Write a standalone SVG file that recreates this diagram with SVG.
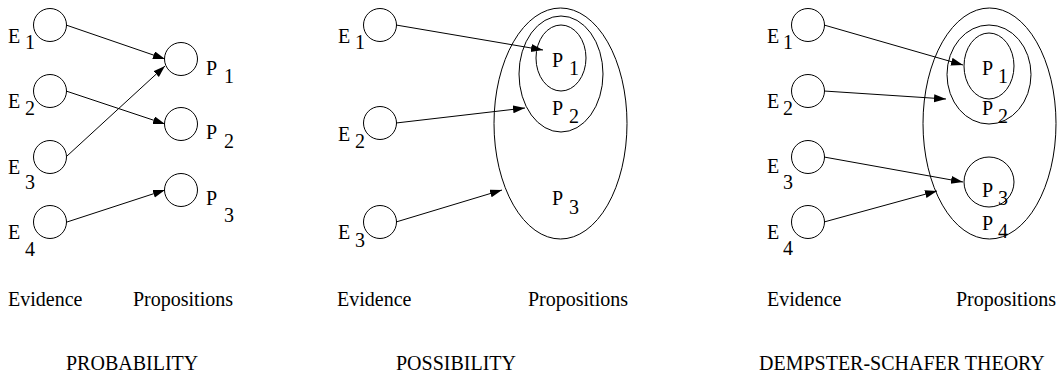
<svg xmlns="http://www.w3.org/2000/svg" width="1057" height="372" viewBox="0 0 1057 372" font-family="'Liberation Serif', 'DejaVu Serif', serif" font-size="20">
  <style>
    text { font-family: 'Liberation Serif', 'DejaVu Serif', serif; font-size: 20px; fill: #000; }
    .node { fill: none; stroke: #000; stroke-width: 1; }
    .edge { fill: none; stroke: #000; stroke-width: 1; marker-end: url(#arrow); }
  </style>
  <defs>
    <marker id="arrow" markerUnits="userSpaceOnUse" markerWidth="13" markerHeight="9" refX="12" refY="4" orient="auto">
      <path d="M0,0 L12,4 L0,8 z" fill="#000"/>
    </marker>
  </defs>
  <rect width="1057" height="372" fill="#fff"/>

  <!-- Panel 1: probability -->
  <g id="prob-e1"><circle class="node" cx="50" cy="25" r="16.5"/><text x="8" y="43">E</text><text x="25" y="49">1</text></g>
  <g id="prob-e2"><circle class="node" cx="50" cy="91" r="16.5"/><text x="8" y="108">E</text><text x="25" y="115">2</text></g>
  <g id="prob-e3"><circle class="node" cx="50" cy="157" r="16.5"/><text x="8" y="174">E</text><text x="25" y="189">3</text></g>
  <g id="prob-e4"><circle class="node" cx="50" cy="222" r="16.5"/><text x="8" y="239">E</text><text x="25" y="256">4</text></g>
  <g id="prob-p1"><circle class="node" cx="181" cy="59" r="16.5"/><text x="206" y="75">P</text><text x="224" y="83">1</text></g>
  <g id="prob-p2"><circle class="node" cx="181" cy="124" r="16.5"/><text x="206" y="139">P</text><text x="224" y="148">2</text></g>
  <g id="prob-p3"><circle class="node" cx="181" cy="190" r="16.5"/><text x="206" y="205">P</text><text x="224" y="222">3</text></g>

  <!-- Panel 2: possibility (nested sets) -->
  <g id="poss-e1"><circle class="node" cx="380" cy="25" r="16.5"/><text x="338" y="43">E</text><text x="355" y="49">1</text></g>
  <g id="poss-e2"><circle class="node" cx="380" cy="123" r="16.5"/><text x="338" y="141">E</text><text x="355" y="148">2</text></g>
  <g id="poss-e3"><circle class="node" cx="380" cy="222" r="16.5"/><text x="338" y="239">E</text><text x="355" y="247">3</text></g>
  <g id="poss-p3"><ellipse class="node" cx="560.5" cy="123.5" rx="66.5" ry="115.5"/><text x="552" y="205">P</text><text x="569" y="214">3</text></g>
  <g id="poss-p2"><ellipse class="node" cx="561" cy="74" rx="42" ry="58"/><text x="552" y="115">P</text><text x="569" y="123">2</text></g>
  <g id="poss-p1"><ellipse class="node" cx="561" cy="58" rx="25" ry="33"/><text x="552" y="67">P</text><text x="569" y="75">1</text></g>

  <!-- Panel 3: Dempster-Shafer -->
  <g id="ds-e1"><circle class="node" cx="808" cy="25" r="16.5"/><text x="767" y="43">E</text><text x="783" y="49">1</text></g>
  <g id="ds-e2"><circle class="node" cx="808" cy="91" r="16.5"/><text x="767" y="108">E</text><text x="783" y="115">2</text></g>
  <g id="ds-e3"><circle class="node" cx="808" cy="157" r="16.5"/><text x="767" y="173">E</text><text x="783" y="189">3</text></g>
  <g id="ds-e4"><circle class="node" cx="808" cy="222" r="16.5"/><text x="767" y="239">E</text><text x="783" y="255">4</text></g>
  <g id="ds-p4"><ellipse class="node" cx="989.5" cy="123.5" rx="66.5" ry="115.5"/><text x="982" y="230">P</text><text x="998" y="238">4</text></g>
  <g id="ds-p2"><ellipse class="node" cx="989" cy="74.5" rx="42" ry="49.5"/><text x="982" y="115">P</text><text x="998" y="123">2</text></g>
  <g id="ds-p1"><ellipse class="node" cx="989" cy="66" rx="25" ry="33"/><text x="982" y="75">P</text><text x="998" y="83">1</text></g>
  <g id="ds-p3"><circle class="node" cx="989" cy="182" r="25"/><text x="982" y="197">P</text><text x="998" y="205">3</text></g>

  <!-- Connectors -->
  <g id="connectors">
    <line class="edge" x1="66" y1="25" x2="165" y2="59"/>
    <line class="edge" x1="66" y1="91" x2="165" y2="124"/>
    <line class="edge" x1="67" y1="156" x2="165" y2="66"/>
    <line class="edge" x1="67" y1="222" x2="165" y2="190"/>

    <line class="edge" x1="396" y1="25" x2="543" y2="50"/>
    <line class="edge" x1="396" y1="123" x2="525" y2="108"/>
    <line class="edge" x1="396" y1="222" x2="502" y2="190"/>

    <line class="edge" x1="824" y1="25" x2="963" y2="65"/>
    <line class="edge" x1="824" y1="91" x2="946" y2="99"/>
    <line class="edge" x1="824" y1="157" x2="963" y2="182"/>
    <line class="edge" x1="824" y1="222" x2="937" y2="191"/>
  </g>

  <!-- Captions -->
  <g id="captions">
    <text x="8" y="306">Evidence</text>
    <text x="133" y="306">Propositions</text>
    <text x="337" y="306">Evidence</text>
    <text x="528" y="306">Propositions</text>
    <text x="767" y="306">Evidence</text>
    <text x="956" y="306">Propositions</text>
    <text x="66" y="370">PROBABILITY</text>
    <text x="396" y="370">POSSIBILITY</text>
    <text x="759" y="370">DEMPSTER-SCHAFER THEORY</text>
  </g>
</svg>
